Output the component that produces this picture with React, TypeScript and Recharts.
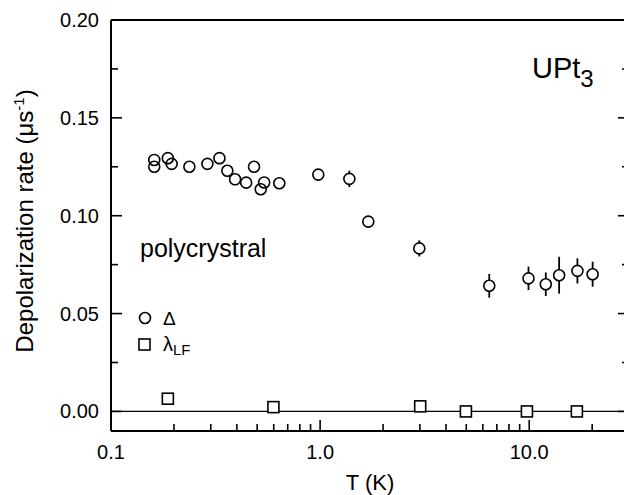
import React from "react"
import { ScatterChart, Scatter, XAxis, YAxis, ErrorBar, ReferenceLine } from "recharts"

const FONT = "'Liberation Sans', Arial, Helvetica, sans-serif"

// Delta (circles): temperature (K), rate (us^-1), error
const deltaT = [0.161, 0.161, 0.187, 0.195, 0.237, 0.289, 0.33, 0.36, 0.392, 0.443, 0.483, 0.52, 0.54, 0.638, 0.98, 1.38, 1.7, 2.98, 6.44, 9.92, 12.0, 13.9, 17.0, 20.1]
const deltaRate = [0.1285, 0.125, 0.1294, 0.1265, 0.125, 0.1265, 0.1294, 0.123, 0.1186, 0.1169, 0.125, 0.1135, 0.117, 0.1166, 0.121, 0.1188, 0.097, 0.0833, 0.0642, 0.068, 0.065, 0.0696, 0.0718, 0.0701]
const deltaErr = [0, 0, 0, 0, 0, 0, 0, 0, 0, 0, 0, 0, 0, 0, 0, 0.0042, 0, 0.0041, 0.0061, 0.006, 0.006, 0.0094, 0.0064, 0.0064]

// lambda_LF (squares)
const lfT = [0.187, 0.598, 3.01, 4.98, 9.75, 16.9]
const lfRate = [0.0065, 0.0022, 0.0026, 0, 0, 0]

// ticks
const xTicks = [0.1, 0.2, 0.3, 0.4, 0.5, 0.6, 0.7, 0.8, 0.9, 1, 2, 3, 4, 5, 6, 7, 8, 9, 10, 20, 30]
const xMajor = [0.1, 1, 10]
const xLabels = ["0.1", "1.0", "10.0"]
const yTicks = [0, 0.025, 0.05, 0.075, 0.1, 0.125, 0.15, 0.175, 0.2]
const yMajor = [0, 0.05, 0.1, 0.15, 0.2]
const yLabels = ["0.00", "0.05", "0.10", "0.15", "0.20"]

const deltaData = deltaT.map((t, i) => ({ t, v: deltaRate[i], err: deltaErr[i] }))
const lfData = lfT.map((t, i) => ({ t, v: lfRate[i] }))

const isMajor = (list: number[], v: number) => list.findIndex((m) => Math.abs(m - v) < 1e-9)

const BottomTick = ({ x, y, payload }: any) => {
  const idx = isMajor(xMajor, payload.value)
  return (
    <g>
      <line x1={x} x2={x} y1={y} y2={y - (idx >= 0 ? 11 : 7)} stroke="#000" strokeWidth={1.6} />
      {idx >= 0 && (
        <text x={x} y={y + 28} textAnchor="middle" fontSize={20} fontFamily={FONT} fill="#000">
          {xLabels[idx]}
        </text>
      )}
    </g>
  )
}

const TopTick = ({ x, y, payload }: any) => {
  const idx = isMajor(xMajor, payload.value)
  return <line x1={x} x2={x} y1={y} y2={y + (idx >= 0 ? 11 : 7)} stroke="#000" strokeWidth={1.6} />
}

const LeftTick = ({ x, y, payload }: any) => {
  const idx = isMajor(yMajor, payload.value)
  return (
    <g>
      <line x1={x} x2={x + (idx >= 0 ? 11 : 7)} y1={y} y2={y} stroke="#000" strokeWidth={1.6} />
      {idx >= 0 && (
        <text x={x - 12} y={y + 7} textAnchor="end" fontSize={20} fontFamily={FONT} fill="#000">
          {yLabels[idx]}
        </text>
      )}
    </g>
  )
}

const RightTick = ({ x, y, payload }: any) => {
  const idx = isMajor(yMajor, payload.value)
  return <line x1={x} x2={x - (idx >= 0 ? 11 : 7)} y1={y} y2={y} stroke="#000" strokeWidth={1.6} />
}

const CircleShape = (props: any) => {
  const { cx, cy, payload } = props
  return <circle cx={cx} cy={cy} r={5.5} fill={payload.err > 0 ? "#fff" : "none"} stroke="#000" strokeWidth={1.6} />
}

const SquareShape = (props: any) => {
  const { cx, cy } = props
  return <rect x={cx - 5.5} y={cy - 5.5} width={11} height={11} fill="#fff" stroke="#000" strokeWidth={1.6} />
}

export default function App() {
  return (
    <div style={{ position: "absolute", left: 0, top: 0, width: 624, height: 495, overflow: "hidden", background: "#fff" }}>
      <ScatterChart width={640} height={495} margin={{ top: 0, right: 0, bottom: 0, left: 0 }}>
        <XAxis
          dataKey="t"
          type="number"
          scale="log"
          domain={[0.1, 30]}
          allowDataOverflow
          ticks={xTicks}
          interval={0}
          height={64}
          tickSize={0}
          tickMargin={0}
          tickLine={false}
          tick={<BottomTick />}
          axisLine={{ stroke: "#000", strokeWidth: 2 }}
        />
        <XAxis
          xAxisId="top"
          orientation="top"
          type="number"
          scale="log"
          domain={[0.1, 30]}
          allowDataOverflow
          ticks={xTicks}
          interval={0}
          height={20}
          tickSize={0}
          tickMargin={0}
          tickLine={false}
          tick={<TopTick />}
          axisLine={{ stroke: "#000", strokeWidth: 2 }}
        />
        <YAxis
          dataKey="v"
          type="number"
          domain={[-0.01, 0.2]}
          allowDataOverflow
          ticks={yTicks}
          interval={0}
          width={111}
          tickSize={0}
          tickMargin={0}
          tickLine={false}
          tick={<LeftTick />}
          axisLine={{ stroke: "#000", strokeWidth: 2 }}
        />
        <YAxis
          yAxisId="right"
          orientation="right"
          type="number"
          domain={[-0.01, 0.2]}
          allowDataOverflow
          ticks={yTicks}
          interval={0}
          width={11}
          tickSize={0}
          tickMargin={0}
          tickLine={false}
          tick={<RightTick />}
          axisLine={{ stroke: "#000", strokeWidth: 2 }}
        />
        <ReferenceLine y={0} stroke="#000" strokeWidth={1.3} />
        <Scatter data={deltaData} shape={<CircleShape />} isAnimationActive={false}>
          <ErrorBar dataKey="err" direction="y" width={0} stroke="#000" strokeWidth={1.8} />
        </Scatter>
        <Scatter data={lfData} shape={<SquareShape />} isAnimationActive={false} />
      </ScatterChart>

      <svg width={624} height={495} style={{ position: "absolute", left: 0, top: 0, pointerEvents: "none" }} fontFamily={FONT}>
        <text x={33} y={221} transform="rotate(-90, 33, 221)" textAnchor="middle" fontSize={24} fill="#000">
          Depolarization rate (μs<tspan dy={-9} fontSize={15}>-1</tspan>
          <tspan dy={9}>)</tspan>
        </text>
        <text x={370} y={490} textAnchor="middle" fontSize={22} fill="#000">T (K)</text>
        <text x={532} y={78} fontSize={29} fill="#000">
          UPt<tspan dy={9} fontSize={24}>3</tspan>
        </text>
        <text x={140} y={257} fontSize={25} fill="#000">polycrystral</text>
        <circle cx={145} cy={318} r={5.5} fill="none" stroke="#000" strokeWidth={1.6} />
        <text x={163} y={325} fontSize={19} fill="#000">Δ</text>
        <rect x={139} y={339} width={11} height={11} fill="#fff" stroke="#000" strokeWidth={1.6} />
        <text x={163} y={351} fontSize={20} fill="#000">
          λ<tspan dy={4} fontSize={15}>LF</tspan>
        </text>
      </svg>
    </div>
  )
}
